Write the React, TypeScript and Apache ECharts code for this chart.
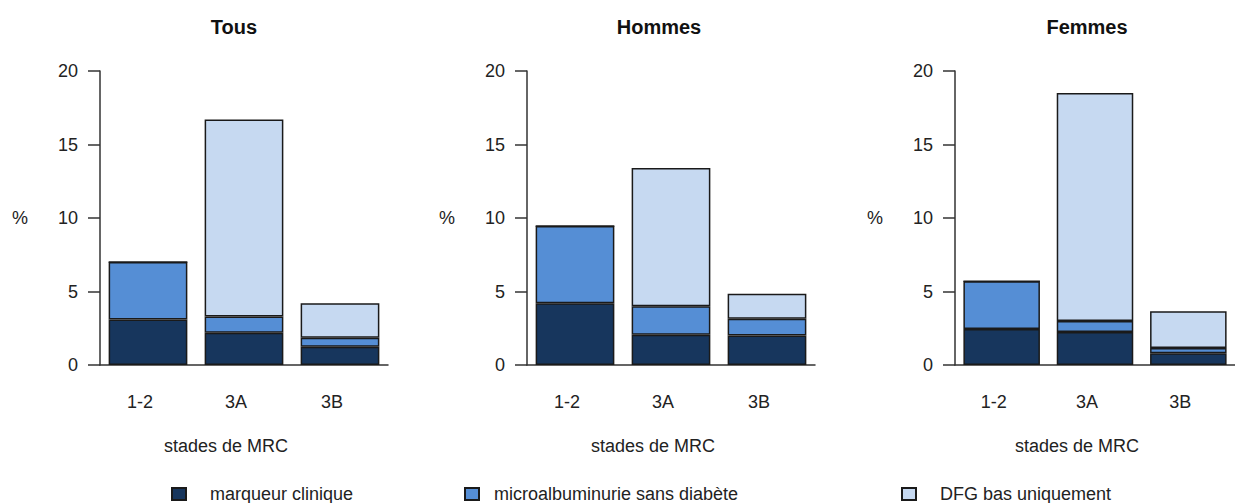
import React, { useEffect, useRef } from "react";
import * as echarts from "echarts";

const categories = ["1-2", "3A", "3B"];
const panelTitles = ["Tous", "Hommes", "Femmes"];
const seriesNames = ["marqueur clinique", "microalbuminurie sans diabète", "DFG bas uniquement"];
const yTicks = [0, 5, 10, 15, 20];

const marqueurTous = [3.1, 2.2, 1.25];
const microTous = [3.9, 1.1, 0.6];
const dfgTous = [0, 13.4, 2.35];

const marqueurHommes = [4.2, 2.05, 2.0];
const microHommes = [5.25, 1.95, 1.15];
const dfgHommes = [0, 9.4, 1.7];

const marqueurFemmes = [2.45, 2.25, 0.8];
const microFemmes = [3.25, 0.75, 0.35];
const dfgFemmes = [0, 15.5, 2.5];

const panelData = [
  [marqueurTous, microTous, dfgTous],
  [marqueurHommes, microHommes, dfgHommes],
  [marqueurFemmes, microFemmes, dfgFemmes],
];

const colors = ["#17365d", "#558ed5", "#c6d9f1"];
const FONT = "'Liberation Sans', Arial, sans-serif";
const gridLefts = [100, 527, 955];
const titleX = [234, 659, 1087];
const legendLefts = [171, 464, 901];
const legendTextPad = [19, 10, 19];

export default function App() {
  const ref = useRef<HTMLDivElement>(null);
  useEffect(() => {
    if (!ref.current) return;
    const chart = echarts.init(ref.current, null, { renderer: "svg" });
    const grids = gridLefts.map((l) => ({ left: l, top: 71, width: 288, height: 294 }));
    const xAxes = gridLefts.map((_, i) => ({
      type: "category",
      gridIndex: i,
      data: categories,
      axisLine: { show: true, lineStyle: { color: "#333", width: 1.5 } },
      axisTick: { show: false },
      axisLabel: { fontSize: 18, color: "#222", margin: 28, fontFamily: FONT, padding: [0, 16, 0, 0] },
      name: "stades de MRC",
      nameLocation: "middle",
      nameGap: 72,
      nameTextStyle: { fontSize: 18, color: "#222", fontFamily: FONT, padding: [0, 36, 0, 0] },
    }));
    const yAxes = gridLefts.map((_, i) => ({
      type: "value",
      gridIndex: i,
      min: yTicks[0],
      max: yTicks[yTicks.length - 1],
      interval: yTicks[1] - yTicks[0],
      axisLine: { show: true, lineStyle: { color: "#333", width: 1.5 } },
      axisTick: { show: true, length: 12, lineStyle: { color: "#333", width: 1.5 } },
      splitLine: { show: false },
      axisLabel: { fontSize: 18, color: "#222", margin: 22, fontFamily: FONT },
      name: "%",
      nameLocation: "middle",
      nameRotate: 0,
      nameGap: 72,
      nameTextStyle: { fontSize: 18, color: "#222", fontFamily: FONT },
    }));
    const series: any[] = [];
    panelData.forEach((panel, pi) => {
      panel.forEach((vals, si) => {
        series.push({
          type: "bar",
          name: seriesNames[si],
          xAxisIndex: pi,
          yAxisIndex: pi,
          stack: "s" + pi,
          data: vals,
          barCategoryGap: "18%",
          itemStyle: { color: colors[si], borderColor: "#1a1a1a", borderWidth: 1.5 },
        });
      });
    });
    chart.setOption({
      animation: false,
      textStyle: { fontFamily: FONT },
      grid: grids,
      xAxis: xAxes,
      yAxis: yAxes,
      series,
      legend: seriesNames.map((n, i) => ({
        data: [n],
        left: legendLefts[i],
        top: 485,
        padding: 0,
        icon: "rect",
        itemWidth: 14,
        itemHeight: 12,
        textStyle: {
          fontSize: 18,
          lineHeight: 16,
          color: "#222",
          fontFamily: FONT,
          padding: [0, 0, 0, legendTextPad[i]],
        },
        selectedMode: false,
      })),
      graphic: panelTitles.map((t, i) => ({
        type: "text",
        x: titleX[i],
        y: 27,
        style: {
          text: t,
          fontSize: 20,
          fontWeight: "bold",
          fontFamily: FONT,
          fill: "#111",
          textAlign: "center",
          textVerticalAlign: "middle",
        },
      })),
    });
    return () => chart.dispose();
  }, []);
  return (
    <div
      ref={ref}
      style={{ position: "absolute", left: 0, top: 0, width: 1235, height: 503, background: "#fff" }}
    />
  );
}
